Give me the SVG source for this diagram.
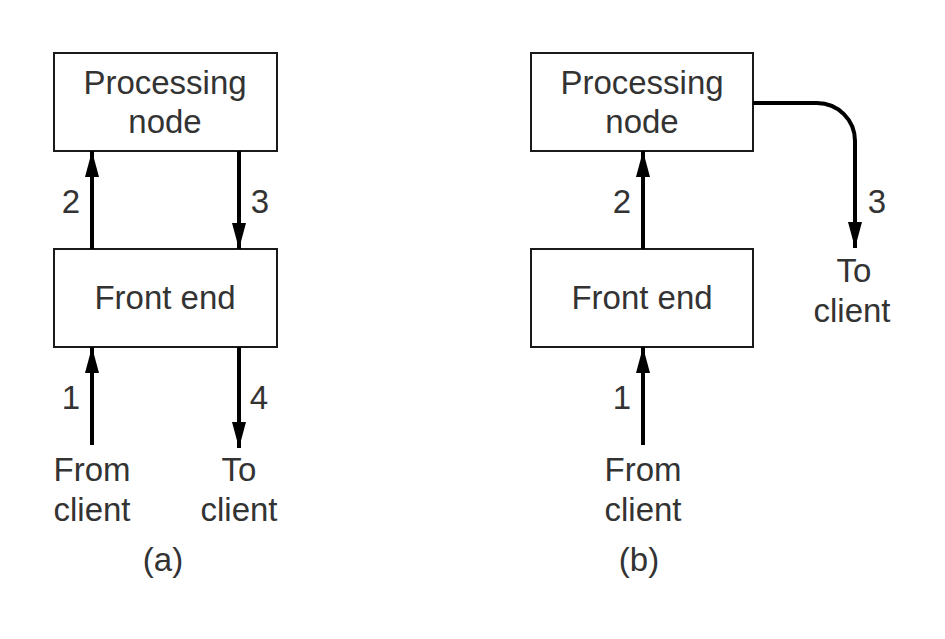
<svg xmlns="http://www.w3.org/2000/svg" width="945" height="639" viewBox="0 0 945 639">
<style>
.box{fill:#fff;stroke:#1a1a1a;stroke-width:2}
.t{font-family:"Liberation Sans",Arial,sans-serif;font-size:33px;fill:#333;text-anchor:middle}
.c{fill:none;stroke:#000;stroke-width:4}
</style>
<defs>
<marker id="ah" viewBox="0 0 26 14" refX="26" refY="7" markerUnits="userSpaceOnUse" markerWidth="26" markerHeight="14" orient="auto">
<path d="M0,0 L26,7 L0,14 Z" fill="#000"/>
</marker>
</defs>
<rect width="945" height="639" fill="#fff"/>
<g id="a-processing"><rect class="box" x="54" y="53" width="223" height="98"/><text class="t" x="165" y="94">Processing</text><text class="t" x="165" y="133">node</text></g>
<g id="a-frontend"><rect class="box" x="54" y="249" width="223" height="98"/><text class="t" x="165" y="309">Front end</text></g>
<g id="b-processing"><rect class="box" x="531" y="53" width="222" height="98"/><text class="t" x="642" y="94">Processing</text><text class="t" x="642" y="133">node</text></g>
<g id="b-frontend"><rect class="box" x="531" y="249" width="222" height="98"/><text class="t" x="642" y="309">Front end</text></g>
<g id="connectors">
<path class="c" d="M92,249 V151" marker-end="url(#ah)"/>
<path class="c" d="M239,151 V249" marker-end="url(#ah)"/>
<path class="c" d="M92,445 V347" marker-end="url(#ah)"/>
<path class="c" d="M239,347 V448" marker-end="url(#ah)"/>
<path class="c" d="M643,249 V151" marker-end="url(#ah)"/>
<path class="c" d="M753,103 H817 A38,38 0 0 1 855,141 V248" marker-end="url(#ah)"/>
<path class="c" d="M643,445 V347" marker-end="url(#ah)"/>
</g>
<g id="labels">
<text class="t" x="71" y="213">2</text>
<text class="t" x="260" y="213">3</text>
<text class="t" x="71" y="409">1</text>
<text class="t" x="259" y="409">4</text>
<text class="t" x="92" y="481">From</text>
<text class="t" x="92" y="521">client</text>
<text class="t" x="239" y="481">To</text>
<text class="t" x="239" y="521">client</text>
<text class="t" x="163" y="571">(a)</text>
<text class="t" x="622" y="213">2</text>
<text class="t" x="877" y="213">3</text>
<text class="t" x="854" y="282">To</text>
<text class="t" x="852" y="322">client</text>
<text class="t" x="622" y="409">1</text>
<text class="t" x="643" y="481">From</text>
<text class="t" x="643" y="521">client</text>
<text class="t" x="639" y="571">(b)</text>
</g>
</svg>
